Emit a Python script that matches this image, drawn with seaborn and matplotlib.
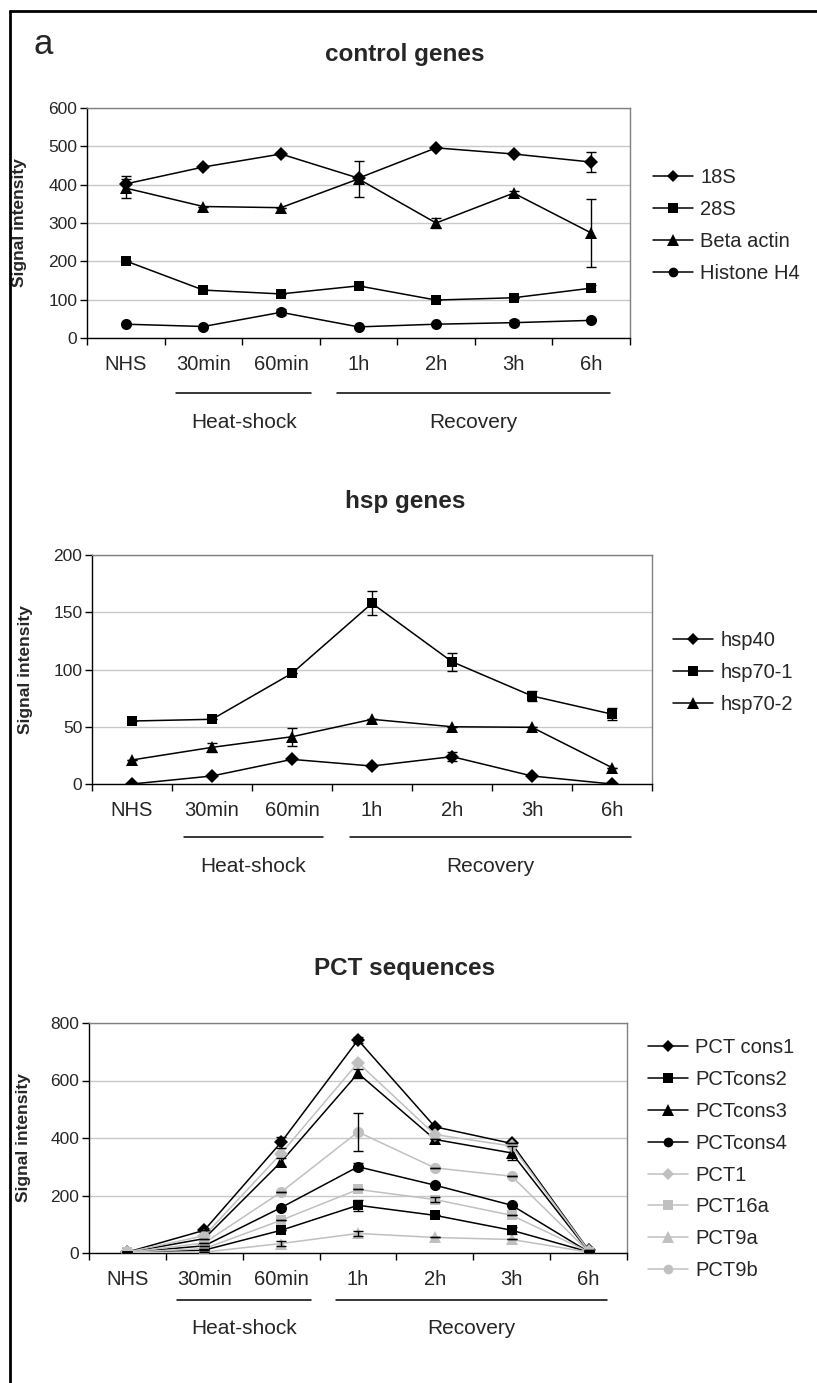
import matplotlib
matplotlib.use("Agg")
import matplotlib.pyplot as plt
import matplotlib.transforms as mtransforms
from matplotlib.lines import Line2D
import seaborn as sns
import pandas as pd
import numpy as np

# ---------------- data ----------------
time_labels = ["NHS", "30min", "60min", "1h", "2h", "3h", "6h"]
group_labels = ["Heat-shock", "Recovery"]

ctrl_genes = ["18S", "28S", "Beta actin", "Histone H4"]
ctrl_18S = [402, 446, 480, 417, 496, 480, 459]
ctrl_28S = [201, 125, 115, 136, 99, 105, 130]
ctrl_actin = [391, 343, 340, 415, 300, 378, 274]
ctrl_h4 = [36, 30, 67, 29, 36, 40, 46]
ctrl_18S_err = [20, 0, 0, 0, 0, 0, 27]
ctrl_28S_err = [0, 0, 0, 0, 0, 0, 8]
ctrl_actin_err = [25, 0, 0, 48, 12, 6, 88]
ctrl_h4_err = [0, 0, 8, 0, 0, 6, 0]

hsp_genes = ["hsp40", "hsp70-1", "hsp70-2"]
hsp40 = [0, 7, 21.5, 15.7, 23.9, 7, 0]
hsp70_1 = [55, 56.5, 96.7, 157.8, 106.8, 76.9, 61]
hsp70_2 = [21, 32, 41.3, 56.5, 50, 49.5, 14.3]
hsp40_err = [0, 0, 0, 0, 4, 0, 0]
hsp70_1_err = [0, 0, 0, 10.6, 8, 4, 5]
hsp70_2_err = [0, 4, 8, 0, 0, 0, 0]

pct_names = ["PCT cons1", "PCTcons2", "PCTcons3", "PCTcons4", "PCT1", "PCT16a", "PCT9a", "PCT9b"]
pct_cons1 = [3, 79, 385, 741, 439, 381, 10]
pct_cons2 = [2, 10, 79, 166, 131, 79, 4]
pct_cons3 = [2, 50, 317, 625, 395, 348, 6]
pct_cons4 = [2, 25, 158, 300, 236, 166, 4]
pct_1 = [3, 60, 346, 662, 412, 372, 8]
pct_16a = [3, 15, 114, 221, 186, 131, 4]
pct_9a = [2, 3, 33, 68, 54, 47, 3]
pct_9b = [2, 35, 212, 421, 296, 267, 5]
pct_cons1_err = [0, 0, 20, 12, 0, 0, 0]
pct_cons2_err = [0, 0, 0, 20, 0, 12, 0]
pct_cons3_err = [0, 0, 15, 15, 0, 25, 0]
pct_cons4_err = [0, 0, 0, 12, 0, 0, 0]
pct_1_err = [0, 0, 0, 0, 0, 0, 0]
pct_16a_err = [0, 0, 0, 0, 8, 0, 0]
pct_9a_err = [0, 0, 10, 8, 0, 0, 0]
pct_9b_err = [0, 0, 0, 67, 0, 0, 0]

# ---------------- style ----------------
sns.set_theme(style="white")
plt.rcParams["font.family"] = ["Liberation Sans", "DejaVu Sans"]

W, H = 817, 1383
fig = plt.figure(figsize=(W / 100, H / 100), dpi=100)

BLACK = "#000000"
GRAY = "#c0c0c0"
MSIZE = {"D": 7.5, "s": 7.5, "^": 9, "o": 8}
LEG_MSIZE = {"D": 6.5, "s": 7, "^": 8, "o": 7}


def rect(l, r, t, b):
    return [l / W, 1 - b / H, (r - l) / W, (b - t) / H]


def fy(y):
    return 1 - y / H


def make_panel(box, names, series, errs, styles, ymax, ystep, title, title_y,
               off, leg_xy, ylabel_x):
    l, r, t, b = box
    ax = fig.add_axes(rect(l, r, t, b))
    x = np.arange(len(time_labels))
    for name, vals in zip(names, series):
        mk, col = styles[name]
        df = pd.DataFrame({"pos": x, "value": vals})
        sns.lineplot(data=df, x="pos", y="value", color=col, marker=mk,
                     markersize=MSIZE[mk], markeredgewidth=0,
                     markeredgecolor=col, linewidth=1.1, legend=False,
                     errorbar=None, ax=ax, zorder=3)
    for name, vals, err in zip(names, series, errs):
        e = np.array(err, dtype=float)
        if e.any():
            ax.errorbar(x, vals, yerr=e, fmt="none", ecolor="black",
                        elinewidth=1, capsize=3.5, capthick=1, zorder=4)
    ax.set_xlim(-0.5, len(time_labels) - 0.5)
    ax.set_ylim(0, ymax)
    ax.set_yticks(np.arange(0, ymax + 1, ystep))
    ax.yaxis.grid(True, color="#c8c8c8", linewidth=1)
    ax.set_axisbelow(True)
    ax.set_xticks(np.arange(-0.5, len(time_labels)), minor=False)
    ax.set_xticklabels([])
    ax.set_xticks(x, minor=True)
    ax.set_xticklabels(time_labels, minor=True, fontsize=14.5)
    ax.tick_params(axis="x", which="major", direction="out", length=5,
                   width=1, color="black", bottom=True)
    ax.tick_params(axis="x", which="minor", length=0, pad=12)
    ax.tick_params(axis="y", direction="out", length=5, width=1,
                   color="black", left=True, labelsize=12.5, pad=2)
    for s in ["left", "bottom"]:
        ax.spines[s].set_color("black")
        ax.spines[s].set_linewidth(1)
    for s in ["top", "right"]:
        ax.spines[s].set_color("#808080")
        ax.spines[s].set_linewidth(1)
    ax.set_xlabel("")
    ax.set_ylabel("Signal intensity", fontsize=12.5, fontweight="bold")
    ax.yaxis.set_label_coords((ylabel_x - l) / (r - l), 0.5)

    # group brackets
    tr = mtransforms.blended_transform_factory(ax.transData, fig.transFigure)
    by = fy(b + off[0])
    ly = fy(b + off[1])
    for (x0, x1), lab in zip([(0.65, 2.39), (2.72, 6.24)], group_labels):
        ax.add_line(Line2D([x0, x1], [by, by], transform=tr, color="black",
                           linewidth=1.1, clip_on=False))
        ax.text((x0 + x1) / 2, ly, lab, transform=tr, ha="center",
                va="center", fontsize=15)

    fig.text(405 / W, fy(title_y), title, ha="center", va="center",
             fontsize=17.5, fontweight="bold")

    handles = [Line2D([0], [0], color=styles[n][1], marker=styles[n][0],
                      markersize=LEG_MSIZE[styles[n][0]], markeredgewidth=0,
                      linewidth=1.1)
               for n in names]
    fig.legend(handles, names, loc="upper left",
               bbox_to_anchor=(leg_xy[0] / W, fy(leg_xy[1] - 9)),
               frameon=False, fontsize=14.5, handlelength=2.0,
               handletextpad=0.35, labelspacing=0.64, borderpad=0,
               borderaxespad=0)
    return ax


ctrl_styles = {"18S": ("D", BLACK), "28S": ("s", BLACK),
               "Beta actin": ("^", BLACK), "Histone H4": ("o", BLACK)}
make_panel((87, 630, 108, 338), ctrl_genes,
           [ctrl_18S, ctrl_28S, ctrl_actin, ctrl_h4],
           [ctrl_18S_err, ctrl_28S_err, ctrl_actin_err, ctrl_h4_err],
           ctrl_styles, 600, 100, "control genes", 55, (55, 84), (653, 177), 27)

hsp_styles = {"hsp40": ("D", BLACK), "hsp70-1": ("s", BLACK),
              "hsp70-2": ("^", BLACK)}
make_panel((92, 652, 555, 784), hsp_genes, [hsp40, hsp70_1, hsp70_2],
           [hsp40_err, hsp70_1_err, hsp70_2_err], hsp_styles, 200, 50,
           "hsp genes", 502, (53, 82), (673, 640), 33)

pct_styles = {"PCT cons1": ("D", BLACK), "PCTcons2": ("s", BLACK),
              "PCTcons3": ("^", BLACK), "PCTcons4": ("o", BLACK),
              "PCT1": ("D", GRAY), "PCT16a": ("s", GRAY),
              "PCT9a": ("^", GRAY), "PCT9b": ("o", GRAY)}
make_panel((89, 627, 1023, 1253), pct_names,
           [pct_cons1, pct_cons2, pct_cons3, pct_cons4, pct_1, pct_16a, pct_9a, pct_9b],
           [pct_cons1_err, pct_cons2_err, pct_cons3_err, pct_cons4_err,
            pct_1_err, pct_16a_err, pct_9a_err, pct_9b_err],
           pct_styles, 800, 200, "PCT sequences", 968, (47, 75), (648, 1047), 31)

# panel label and frame
fig.text(43 / W, fy(45), "a", ha="center", va="center", fontsize=25)
fig.add_artist(Line2D([10 / W, 10 / W], [fy(11), 0], color="black",
                      linewidth=2, transform=fig.transFigure))
fig.add_artist(Line2D([10 / W, 1], [fy(11), fy(11)], color="black",
                      linewidth=2, transform=fig.transFigure))

fig.savefig("out.png", dpi=100)
